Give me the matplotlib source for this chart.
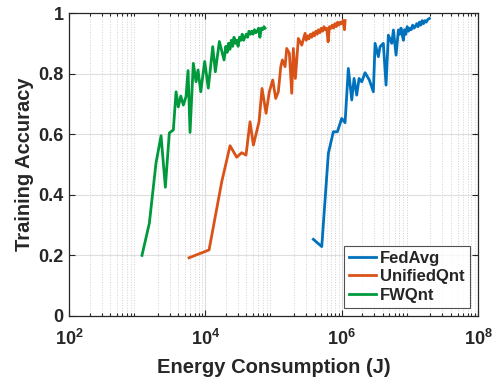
import numpy as np
import matplotlib.pyplot as plt
from matplotlib.ticker import LogLocator, NullFormatter

fedavg_logE = [5.584, 5.707, 5.804, 5.877, 5.936, 6.0, 6.049, 6.097, 6.147, 6.181, 6.22,
               6.254, 6.294, 6.342, 6.405, 6.464, 6.489, 6.537, 6.562, 6.61, 6.65, 6.684,
               6.734, 6.758, 6.797, 6.831, 6.85, 6.87, 6.89, 6.905, 6.92, 6.94, 6.96, 6.98,
               7.00, 7.02, 7.04, 7.06, 7.08, 7.10, 7.12, 7.14, 7.16, 7.18, 7.20, 7.22, 7.24,
               7.26, 7.285]
fedavg_acc = [0.253, 0.229, 0.537, 0.608, 0.608, 0.652, 0.638, 0.817, 0.713, 0.784, 0.729,
              0.784, 0.773, 0.803, 0.779, 0.74, 0.9, 0.856, 0.889, 0.9, 0.762, 0.927,
              0.9, 0.944, 0.861, 0.944, 0.93, 0.95, 0.925, 0.91, 0.945, 0.93, 0.955, 0.94,
              0.95, 0.945, 0.96, 0.95, 0.955, 0.965, 0.955, 0.97, 0.96, 0.975, 0.965, 0.975, 0.97,
              0.978, 0.982]

unified_logE = [3.76, 4.054, 4.24, 4.362, 4.46, 4.533, 4.596, 4.655, 4.704, 4.787, 4.831,
                4.89, 4.938, 4.988, 5.032, 5.07, 5.106, 5.129, 5.169, 5.193, 5.232, 5.267,
                5.29, 5.32, 5.364, 5.414, 5.462, 5.48, 5.50, 5.52, 5.54, 5.56, 5.58, 5.60,
                5.62, 5.64, 5.66, 5.68, 5.70, 5.72, 5.74, 5.76, 5.78, 5.80, 5.82, 5.84, 5.86,
                5.88, 5.90, 5.92, 5.94, 5.96, 5.98, 6.00, 6.02, 6.04, 6.05]
unified_acc = [0.192, 0.218, 0.443, 0.562, 0.524, 0.539, 0.531, 0.641, 0.564, 0.641, 0.751,
               0.669, 0.74, 0.779, 0.718, 0.74, 0.823, 0.845, 0.823, 0.883, 0.867, 0.735,
               0.883, 0.784, 0.916, 0.894, 0.933, 0.91, 0.925, 0.915, 0.93, 0.92, 0.935, 0.925,
               0.94, 0.93, 0.945, 0.935, 0.95, 0.94, 0.955, 0.945, 0.95, 0.905, 0.955, 0.95, 0.96,
               0.95, 0.965, 0.955, 0.97, 0.96, 0.97, 0.965, 0.975, 0.945, 0.975]

fwqnt_logE = [3.07, 3.178, 3.276, 3.35, 3.413, 3.471, 3.53, 3.57, 3.603, 3.639, 3.677,
              3.716, 3.746, 3.775, 3.823, 3.863, 3.892, 3.932, 3.99, 4.043, 4.108, 4.146,
              4.205, 4.274, 4.30, 4.32, 4.34, 4.36, 4.38, 4.40, 4.42, 4.44, 4.46, 4.48,
              4.50, 4.52, 4.54, 4.56, 4.58, 4.60, 4.62, 4.64, 4.66, 4.68, 4.70, 4.72, 4.74,
              4.76, 4.78, 4.80, 4.82, 4.84, 4.86, 4.875]
fwqnt_acc = [0.20, 0.306, 0.505, 0.595, 0.425, 0.604, 0.614, 0.74, 0.69, 0.726, 0.696,
             0.724, 0.81, 0.606, 0.834, 0.773, 0.812, 0.74, 0.84, 0.752, 0.889, 0.806,
             0.906, 0.845, 0.89, 0.87, 0.90, 0.88, 0.91, 0.89, 0.92, 0.90, 0.91, 0.89,
             0.92, 0.91, 0.93, 0.91, 0.92, 0.93, 0.92, 0.94, 0.93, 0.94, 0.93, 0.945, 0.935,
             0.94, 0.95, 0.92, 0.95, 0.945, 0.955, 0.95]

plt.rcParams['font.family'] = ['Liberation Sans', 'DejaVu Sans']
plt.rcParams['font.weight'] = 'bold'
plt.rcParams['mathtext.fontset'] = 'custom'
plt.rcParams['mathtext.rm'] = 'Liberation Sans:bold'
plt.rcParams['mathtext.bf'] = 'Liberation Sans:bold'
plt.rcParams['mathtext.default'] = 'bf'
plt.rcParams['text.color'] = '#262626'
plt.rcParams['xtick.color'] = '#262626'
plt.rcParams['ytick.color'] = '#262626'
plt.rcParams['axes.labelcolor'] = '#262626'

fig = plt.figure(figsize=(4.98, 3.83), dpi=100)
ax = fig.add_axes([0.1386, 0.175, 0.8214, 0.791])

ax.semilogx(10 ** np.array(fedavg_logE), fedavg_acc, color='#0072BD', lw=2, label='FedAvg')
ax.semilogx(10 ** np.array(unified_logE), unified_acc, color='#D95319', lw=2, label='UnifiedQnt')
ax.semilogx(10 ** np.array(fwqnt_logE), fwqnt_acc, color='#009A3D', lw=2, label='FWQnt')

ax.set_xlim(1e2, 1e8)
ax.set_ylim(0, 1)
ax.set_xticks([1e2, 1e4, 1e6, 1e8])
ax.set_xticklabels([r'$\mathbf{10^{2}}$', r'$\mathbf{10^{4}}$', r'$\mathbf{10^{6}}$', r'$\mathbf{10^{8}}$'])
ax.xaxis.set_minor_locator(LogLocator(base=10, subs=np.arange(2, 10), numticks=50))
ax.xaxis.set_minor_formatter(NullFormatter())
ax.set_yticks([0, 0.2, 0.4, 0.6, 0.8, 1])
ax.set_yticklabels(['0', '0.2', '0.4', '0.6', '0.8', '1'])

ax.grid(True, which='major', color='#DEDEDE', lw=0.8, ls='-')
ax.grid(True, which='minor', axis='x', color='#D2D2D2', lw=0.7, ls=':')
ax.set_axisbelow(True)

ax.tick_params(which='both', direction='in', top=True, right=True, labelsize=13, width=0.8)
ax.tick_params(which='major', length=4)
ax.tick_params(which='minor', length=2)
ax.tick_params(axis='x', which='major', pad=9)
ax.tick_params(axis='y', which='major', pad=4)
for s in ax.spines.values():
    s.set_linewidth(0.9)
    s.set_color('#262626')

ax.set_xlabel('Energy Consumption (J)', fontsize=14.5, fontweight='bold', labelpad=7)
ax.set_ylabel('Training Accuracy', fontsize=14.5, fontweight='bold', labelpad=3)

leg = ax.legend(loc='lower right', fontsize=12, frameon=True, fancybox=False,
                edgecolor='#262626', handlelength=1.6, borderpad=0.3, labelspacing=0.2,
                handletextpad=0.25, borderaxespad=0.5)
leg.get_frame().set_linewidth(0.8)

fig.savefig('out.png', dpi=100)
